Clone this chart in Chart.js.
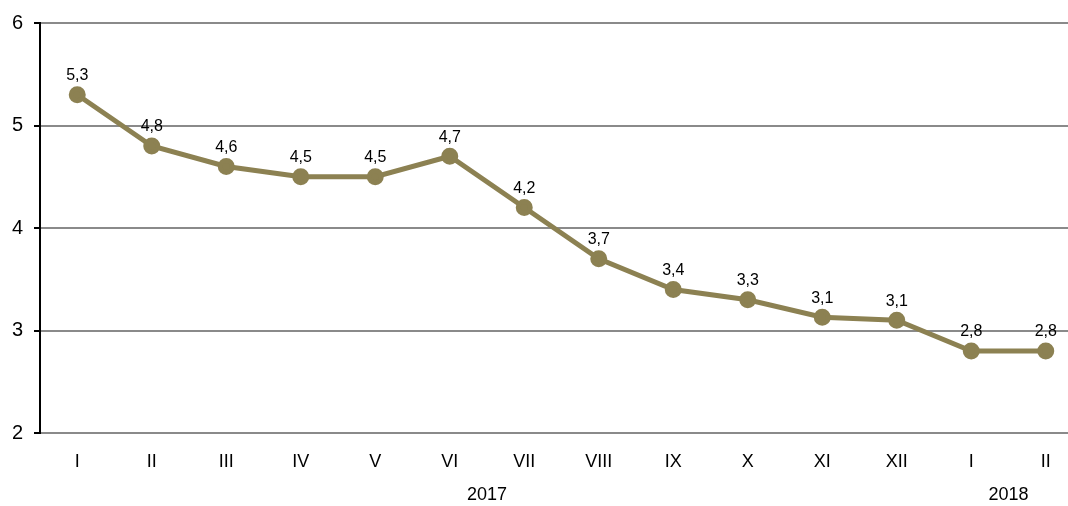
<!DOCTYPE html>
<html>
<head>
<meta charset="utf-8">
<script src="https://cdn.jsdelivr.net/npm/chart.js@4"></script>
<style>
  html, body { margin: 0; padding: 0; background: #fff; overflow: hidden; }
  #wrap { width: 1094px; height: 506px; }
</style>
</head>
<body>
<div id="wrap"><canvas id="chart"></canvas></div>
<script>
const months = ['I', 'II', 'III', 'IV', 'V', 'VI', 'VII', 'VIII', 'IX', 'X', 'XI', 'XII', 'I', 'II'];
const values = [5.3, 4.8, 4.6, 4.5, 4.5, 4.7, 4.2, 3.7, 3.4, 3.3, 3.13, 3.1, 2.8, 2.8];
const years = [
  { label: '2017', from: 0, to: 11 },
  { label: '2018', from: 12, to: 13 }
];
const yTicks = [2, 3, 4, 5, 6];

// value labels above the points, comma decimals
const pointLabels = {
  id: 'pointLabels',
  afterDatasetsDraw(chart) {
    const ctx = chart.ctx;
    const meta = chart.getDatasetMeta(0);
    ctx.save();
    ctx.font = '16px "Liberation Sans", Arial, sans-serif';
    ctx.fillStyle = '#000';
    ctx.textAlign = 'center';
    ctx.textBaseline = 'bottom';
    meta.data.forEach((pt, i) => {
      ctx.fillText(values[i].toFixed(1).replace('.', ','), pt.x, pt.y - 11);
    });
    ctx.restore();
  }
};

// year labels under the month ticks
const yearLabels = {
  id: 'yearLabels',
  afterDraw(chart) {
    const ctx = chart.ctx;
    const x = chart.scales.x;
    ctx.save();
    ctx.font = '18px "Liberation Sans", Arial, sans-serif';
    ctx.fillStyle = '#000';
    ctx.textAlign = 'center';
    ctx.textBaseline = 'middle';
    years.forEach(y => {
      const cx = (x.getPixelForValue(y.from) + x.getPixelForValue(y.to)) / 2;
      ctx.fillText(y.label, cx, 495);
    });
    ctx.restore();
  }
};

new Chart(document.getElementById('chart'), {
  type: 'line',
  data: {
    labels: months,
    datasets: [{
      data: values,
      borderColor: '#8c8152',
      backgroundColor: '#8c8152',
      borderWidth: 5,
      pointRadius: 6,
      tension: 0
    }]
  },
  options: {
    responsive: true,
    maintainAspectRatio: false,
    animation: false,
    layout: { padding: { top: 22, right: 1, left: 0, bottom: 0 } },
    plugins: { legend: { display: false }, tooltip: { enabled: false } },
    scales: {
      x: {
        offset: true,
        grid: { display: false },
        border: { color: '#8a8a8a', width: 2 },
        ticks: {
          color: '#000',
          padding: 10,
          maxRotation: 0,
          autoSkip: false,
          font: { family: '"Liberation Sans", Arial, sans-serif', size: 18 }
        },
        afterFit(s) { s.height = 73; }
      },
      y: {
        min: yTicks[0],
        max: yTicks[yTicks.length - 1],
        afterBuildTicks(s) { s.ticks = yTicks.map(v => ({ value: v })); },
        grid: { color: '#8a8a8a', lineWidth: 2, tickLength: 6, tickColor: '#000' },
        border: { color: '#000', width: 2 },
        ticks: {
          color: '#000',
          padding: 11,
          font: { family: '"Liberation Sans", Arial, sans-serif', size: 20 }
        },
        afterFit(s) { s.width = 40; }
      }
    }
  },
  plugins: [pointLabels, yearLabels]
});
</script>
</body>
</html>
